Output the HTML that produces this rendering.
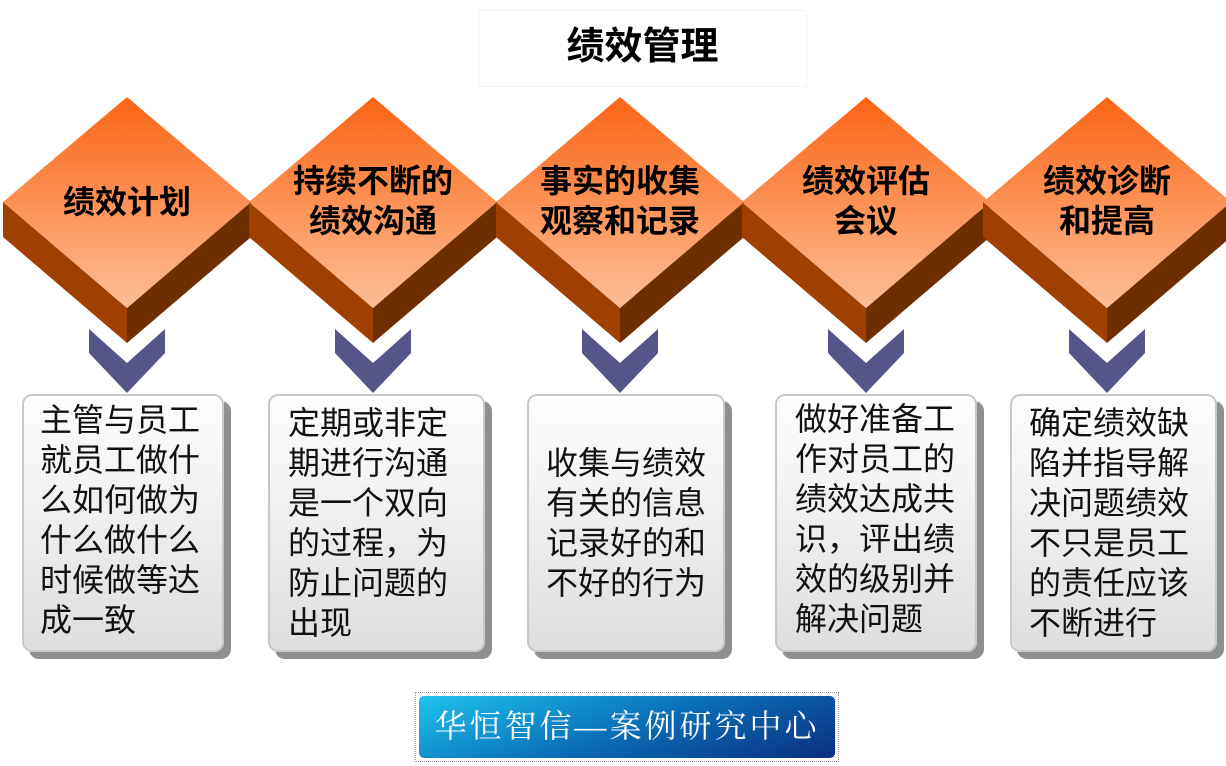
<!DOCTYPE html>
<html><head><meta charset="utf-8"><style>
body{margin:0;width:1226px;height:766px;background:#fff;position:relative;overflow:hidden;font-family:"Liberation Sans","Noto Sans CJK SC",sans-serif}
.box{position:absolute;top:394px;height:258px;border-radius:10px;border:2px solid #c8c8c8;background:linear-gradient(#fefefe,#dedede);box-shadow:7px 7px 0 #8f8f8f;box-sizing:border-box;font-size:32px;line-height:40px;color:#111;padding-left:16px;padding-top:4px}
</style></head><body>
<div style="position:absolute;left:478px;top:10px;width:327px;height:75px;border:1px solid #f4f4f4;text-align:center;font-weight:bold;font-size:38px;line-height:72px;color:#000">绩效管理</div>
<svg width="1226" height="400" style="position:absolute;left:0;top:0">
<defs><linearGradient id="g" x1="0" y1="0" x2="0" y2="1"><stop offset="0" stop-color="#fa6415"/><stop offset="1" stop-color="#fdbe95"/></linearGradient>
<g id="d">
<polygon points="-124,202 0,308 0,343 -124,237" fill="#a04000"/>
<polygon points="0,308 124,202 124,237 0,343" fill="#6e2e00"/>
<polygon points="0,97 124,202 0,308 -124,202" fill="url(#g)"/>
<polygon points="-38,329 0,363 38,329 38,353 0,393 -38,353" fill="#55558a"/>
</g></defs>
<use href="#d" transform="translate(127,0)"/>
<use href="#d" transform="translate(373,0)"/>
<use href="#d" transform="translate(620,0)"/>
<use href="#d" transform="translate(866,0)"/>
<use href="#d" transform="translate(1107,0)"/>
<g font-family="Liberation Sans,Noto Sans CJK SC,sans-serif" font-weight="bold" font-size="32" text-anchor="middle" fill="#000">
<text x="127" y="213">绩效计划</text>
<text x="373" y="192">持续不断的</text><text x="373" y="232">绩效沟通</text>
<text x="620" y="192">事实的收集</text><text x="620" y="232">观察和记录</text>
<text x="866" y="192">绩效评估</text><text x="866" y="232">会议</text>
<text x="1107" y="192">绩效诊断</text><text x="1107" y="232">和提高</text>
</g>
</svg>
<div class="box" style="left:22px;width:202px">主管与员工<br>就员工做什<br>么如何做为<br>什么做什么<br>时候做等达<br>成一致</div>
<div class="box" style="left:268px;width:217px;padding-left:18px;padding-top:7px">定期或非定<br>期进行沟通<br>是一个双向<br>的过程，为<br>防止问题的<br>出现</div>
<div class="box" style="left:527px;width:198px;padding-top:47px;padding-left:17px">收集与绩效<br>有关的信息<br>记录好的和<br>不好的行为</div>
<div class="box" style="left:775px;width:202px;padding-top:3px;padding-left:18px">做好准备工<br>作对员工的<br>绩效达成共<br>识，评出绩<br>效的级别并<br>解决问题</div>
<div class="box" style="left:1010px;width:207px;padding-top:7px;padding-left:17px">确定绩效缺<br>陷并指导解<br>决问题绩效<br>不只是员工<br>的责任应该<br>不断进行</div>
<div style="position:absolute;left:415px;top:692px;width:424px;height:70px;border:1px dotted #999;box-sizing:border-box;padding:3px">
<div style="width:100%;height:100%;border-radius:5px;background:linear-gradient(160deg,#1fc3ee,#0a6fb8 50%,#0a2f80);color:#fff;font-family:'Liberation Serif','Noto Serif CJK SC',serif;font-size:32px;line-height:60px;text-align:center;letter-spacing:3px">华恒智信—案例研究中心</div></div>
</body></html>
